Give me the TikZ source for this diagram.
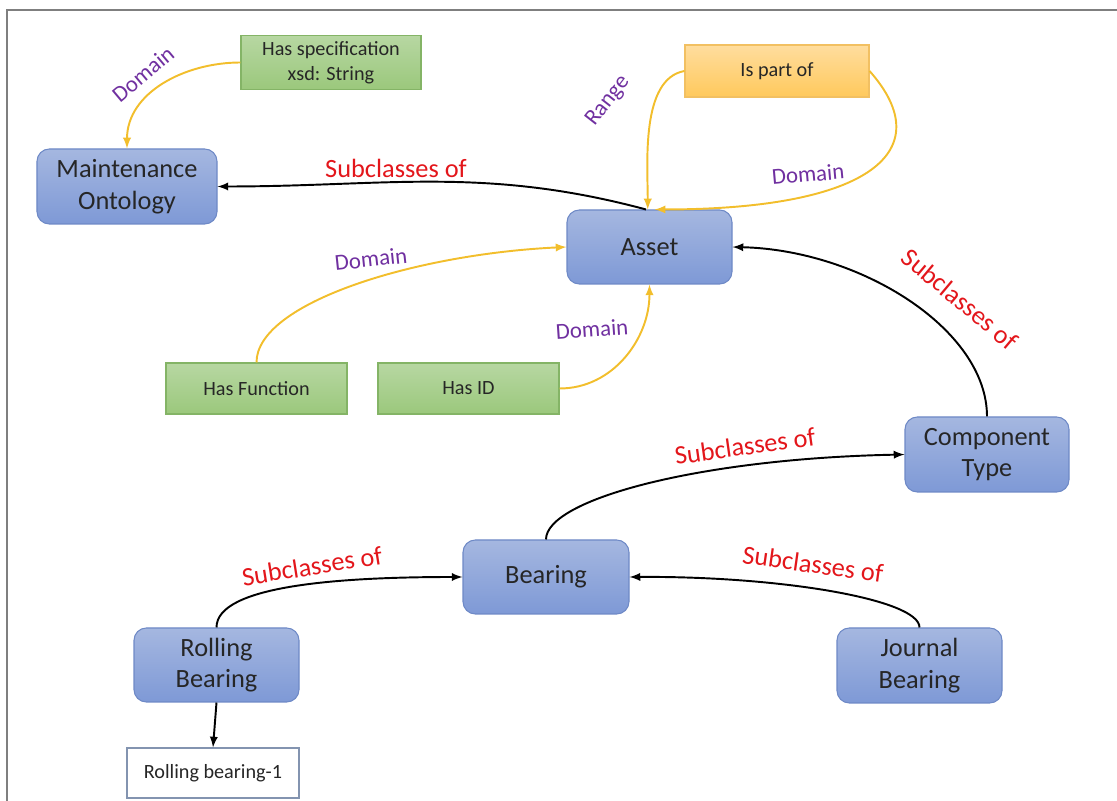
\documentclass[tikz,border=0pt]{standalone}
\usepackage{fontspec}
\setmainfont{Carlito}
\usepackage{tikz}
\usetikzlibrary{shapes}

\definecolor{clstop}{HTML}{A5B7E0}
\definecolor{clsbot}{HTML}{7E99D6}
\definecolor{clsline}{HTML}{6E89C6}
\definecolor{proptop}{HTML}{B7D7A2}
\definecolor{propbot}{HTML}{9BC87C}
\definecolor{propline}{HTML}{84B466}
\definecolor{reltop}{HTML}{FFDD9E}
\definecolor{relbot}{HTML}{FFC95C}
\definecolor{relline}{HTML}{F2C062}
\definecolor{domline}{HTML}{F2BE2C}
\definecolor{domtext}{HTML}{7030A0}
\definecolor{subtext}{HTML}{E3161B}
\definecolor{frame}{HTML}{7F7F7F}
\definecolor{indline}{HTML}{8394B0}

\begin{document}
\begin{tikzpicture}[line width=1pt]
\tikzstyle{cls}=[draw=clsline,line width=0.6pt,rounded corners=7pt,top color=clstop,bottom color=clsbot,text=black!85,font=\fontsize{15}{18}\selectfont,align=center,minimum width=3.3cm,minimum height=1.48cm];
\tikzstyle{prop}=[draw=propline,line width=0.6pt,top color=proptop,bottom color=propbot,text=black!85,font=\fontsize{11.5}{14}\selectfont,align=center,minimum width=3.62cm,minimum height=1.02cm];
\tikzstyle{rel}=[prop,draw=relline,top color=reltop,bottom color=relbot,minimum width=3.68cm,minimum height=1.04cm];
\tikzstyle{ind}=[draw=indline,line width=0.6pt,fill=white,text=black!85,font=\fontsize{11.5}{14}\selectfont,minimum width=3.44cm,minimum height=1cm];
\tikzstyle{sub}=[->,>=latex,black,line width=1.1pt];
\tikzstyle{dom}=[->,>=latex,domline,line width=1.1pt];
\tikzstyle{sublbl}=[text=subtext,font=\fontsize{15}{18}\selectfont];
\tikzstyle{domlbl}=[text=domtext,font=\fontsize{13}{16}\selectfont];

\useasboundingbox (0,0) rectangle (22.34,16.02);
\draw [frame,line width=1.2pt] (0.14,0) -- (0.14,15.82) -- (22.34,15.82);

% classes
\node [cls,minimum width=3.6cm,minimum height=1.5cm] (mo) at (2.54,12.29) {Maintenance\\Ontology};
\node [cls] (asset) at (12.99,11.08) {Asset};
\node [cls,minimum width=3.28cm,minimum height=1.5cm] (comp) at (19.74,6.93) {Component\\Type};
\node [cls,minimum width=3.32cm] (bear) at (10.92,4.48) {Bearing};
\node [cls] (roll) at (4.33,2.72) {Rolling\\Bearing};
\node [cls,minimum height=1.5cm] (jour) at (18.39,2.71) {Journal\\Bearing};

% properties
\node [prop,minimum width=3.6cm] (spec) at (6.62,14.77) {Has specification\\xsd: String};
\node [rel] (part) at (15.54,14.6) {Is part of};
\node [prop] (func) at (5.13,8.25) {Has Function};
\node [prop] (hasid) at (9.37,8.25) {Has ID};

% individual
\node [ind] (rb1) at (4.26,0.56) {Rolling bearing-1};

% domain / range links
\draw [dom] (spec.west) to[out=180,in=90] (mo.north);
\draw [dom] (part.west) to[out=190,in=90,looseness=0.8] ([xshift=-1pt]asset.north);
\draw [dom] (part.east) .. controls +(1.42,-1.6) and +(4.3,0) .. ([xshift=3pt]asset.north);
\draw [dom] (func.north) .. controls +(0,1.2) and +(-3,-0.14) .. (asset.west);
\draw [dom] (hasid.east) to[out=0,in=-90] (asset.south);

\node [domlbl,rotate=40] (d1) at (2.86,14.54) {Domain};
\node [domlbl,rotate=52] (r1) at (12.16,14.0) {Range};
\node [domlbl,rotate=5] (d2) at (16.16,12.54) {Domain};
\node [domlbl,rotate=6] (d3) at (7.42,10.84) {Domain};
\node [domlbl,rotate=4] (d4) at (11.84,9.44) {Domain};

% subclass links
\draw [sub] ([xshift=-2pt]asset.north) to[out=165,in=0] (mo.east);
\draw [sub] (comp.north) .. controls +(0,1.74) and +(2.56,-0.06) .. (asset.east);
\draw [sub] (bear.north) .. controls +(0,0.8) and +(-4.1,-0.08) .. (comp.west);
\draw [sub] (roll.north) .. controls +(0,0.84) and +(-2.46,0) .. (bear.west);
\draw [sub] (jour.north) .. controls +(0,0.56) and +(3.02,0.02) .. (bear.east);
\draw [sub] (roll.south) -- (rb1.north);

\node [sublbl] (s1) at (7.92,12.66) {Subclasses of};
\node [sublbl,rotate=-40] (s2) at (19.2,10.04) {Subclasses of};
\node [sublbl,rotate=8] (s3) at (14.9,7.1) {Subclasses of};
\node [sublbl,rotate=9] (s4) at (6.24,4.7) {Subclasses of};
\node [sublbl,rotate=-8] (s5) at (16.26,4.74) {Subclasses of};
\end{tikzpicture}
\end{document}
